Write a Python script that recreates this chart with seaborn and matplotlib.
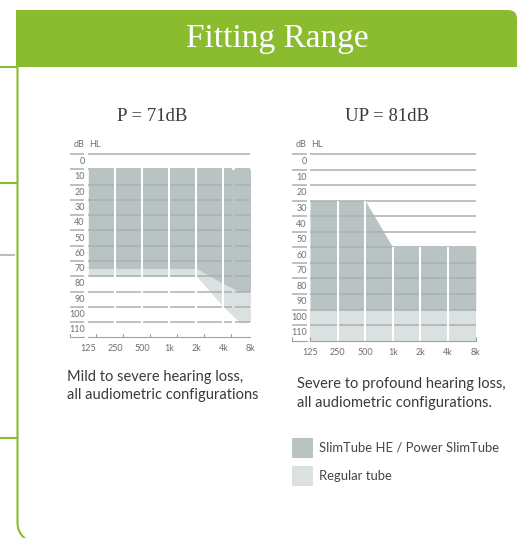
import numpy as np
import matplotlib
matplotlib.use("Agg")
import matplotlib.pyplot as plt
from matplotlib.patches import PathPatch, Rectangle
from matplotlib.path import Path
from matplotlib import font_manager
import seaborn as sns

# ---------------------------------------------------------------- data
freq_labels = ["125", "250", "500", "1k", "2k", "4k", "8k"]
db_levels = [0, 10, 20, 30, 40, 50, 60, 70, 80, 90, 100, 110]

# P = 71dB fitting range (dB HL)
p_freqs = [125, 250, 500, 1000, 2000, 4000, 6000, 8000]
p_slim_top = [10, 10, 10, 10, 10, 10, 10, 10]
p_slim_bottom = [75, 75, 75, 75, 75, 85, 90, 90]
p_regular_bottom = [80, 80, 80, 80, 80, 100, 110, 110]

# UP = 81dB fitting range (dB HL)
up_freqs = [125, 250, 500, 1000, 2000, 4000, 8000]
up_slim_top = [30, 30, 30, 60, 60, 60, 60]
up_slim_bottom = [100, 100, 100, 100, 100, 100, 100]
up_regular_bottom = [120, 120, 120, 120, 120, 120, 120]

legend_labels = ["SlimTube HE / Power SlimTube", "Regular tube"]

# ---------------------------------------------------------------- style
sns.set_theme(style="white")
names = {f.name for f in font_manager.fontManager.ttflist}
SANS = "Liberation Sans Narrow" if "Liberation Sans Narrow" in names else "Lato"
SERIF = "Liberation Serif"
plt.rcParams["font.family"] = [SANS, "DejaVu Sans"]

GREEN = "#8bbc30"
DARK = "#b9c3c3"
LIGHT = "#dbe1e1"
GRID = "#a7b2b2"
TEXT = "#3a3a3a"
TICK = "#707070"

W, H = 517, 538
fig = plt.figure(figsize=(W / 100, H / 100), dpi=100)

# full-page overlay in pixel coordinates
page = fig.add_axes([0, 0, 1, 1])
page.set_xlim(0, W)
page.set_ylim(H, 0)
page.axis("off")

# banner with rounded top-right corner
r = 9
banner = Path(
    [(16, 67), (16, 10), (W - r, 10), (W, 10), (W, 10 + r), (W, 67), (16, 67)],
    [Path.MOVETO, Path.LINETO, Path.LINETO, Path.CURVE3, Path.CURVE3,
     Path.LINETO, Path.CLOSEPOLY],
)
page.add_patch(PathPatch(banner, facecolor=GREEN, edgecolor="none"))
page.text(277, 47, "Fitting Range", family=SERIF, fontsize=24, color="white",
          ha="center", va="baseline")

# left frame line with rounded foot
frame = Path(
    [(17.5, 66), (17.5, 522), (17.5, 533), (23, 537), (28, 541)],
    [Path.MOVETO, Path.LINETO, Path.CURVE4, Path.CURVE4, Path.CURVE4],
)
page.add_patch(PathPatch(frame, facecolor="none", edgecolor=GREEN, lw=1.5))
for yy in (67, 183, 438):
    page.plot([0, 17.5], [yy, yy], color=GREEN, lw=1.5, solid_capstyle="butt")
page.plot([0, 15], [255, 255], color="#bdbdbd", lw=1.5, solid_capstyle="butt")


def chart_axes(box, x125, px_oct, y0, px_db):
    """Axes placed at a pixel box; x in octaves above 125 Hz, y in dB HL."""
    l, t, rr, b = box
    ax = fig.add_axes([l / W, 1 - b / H, (rr - l) / W, (b - t) / H])
    ax.set_xlim((l - x125) / px_oct, (rr - x125) / px_oct)
    ax.set_ylim((b - y0) / px_db, (t - y0) / px_db)
    ax.axis("off")
    return ax


def draw_chart(ax, freqs, slim_top, slim_bottom, reg_bottom, stub, label_x,
               tick_shift, white_from, split=None):
    octs = np.log2(np.array(freqs) / 125.0)
    ax.fill_between(octs, slim_bottom, reg_bottom, color=LIGHT, lw=0, zorder=1)
    ax.fill_between(octs, slim_top, slim_bottom, color=DARK, lw=0, zorder=1)

    # horizontal grid, split where the scale labels sit
    spans = [(0, 6)] if split is None else [(0, split[0]), (split[1], 6)]
    for lv in db_levels:
        ax.plot([stub[0], stub[1]], [lv, lv], color=GRID, lw=1.1,
                solid_capstyle="butt", zorder=2)
        for i, (a, b) in enumerate(spans):
            if lv == 0 and i > 0:
                a = spans[0][1]
            ax.plot([a, b], [lv, lv], color=GRID, lw=1.1,
                    solid_capstyle="butt", zorder=2)
        ax.text(label_x, lv + 5, str(lv), ha="right", va="center",
                fontsize=6.5, color=TICK)
    ax.text(label_x, -6, "dB", ha="right", va="center", fontsize=6.5, color=TICK)
    ax.text(label_x + 0.17, -6, "HL", ha="left", va="center", fontsize=6.5,
            color=TICK)

    # white octave dividers
    for k in range(1, 6):
        top = white_from(k, octs, slim_top)
        ax.plot([k, k], [top, 120], color="white", lw=1.5, zorder=3,
                solid_capstyle="butt")

    # frequency axis
    ax.plot([stub[0], stub[1]], [120, 120], color="#9aa3a3", lw=0.8, zorder=2)
    ax.plot([0 if tick_shift == 0 else stub[1] + 0.15, 6], [120, 120],
            color="#9aa3a3", lw=0.8, zorder=2)
    ticks = [stub[0]] + [k + tick_shift for k in range(0, 7 if tick_shift == 0 else 6)]
    for tx in ticks:
        ax.plot([tx, tx], [120, 117.5], color="#9aa3a3", lw=0.8, zorder=2)
    for k, lab in enumerate(freq_labels):
        ax.text(k, 127.5, lab, ha="center", va="center", fontsize=6.5, color=TICK)


# P = 71dB chart
ax1 = chart_axes((66, 138, 256, 356), x125=88.3, px_oct=27.03, y0=154, px_db=1.528)
draw_chart(ax1, p_freqs, p_slim_top, p_slim_bottom, p_regular_bottom,
           stub=(-0.68, -0.16), label_x=-0.13, tick_shift=0.29,
           white_from=lambda k, o, t: 5, split=(5.33, 5.43))

# UP = 81dB chart
ax2 = chart_axes((288, 138, 480, 358), x125=310, px_oct=27.62, y0=154, px_db=1.556)
draw_chart(ax2, up_freqs, up_slim_top, up_slim_bottom, up_regular_bottom,
           stub=(-0.66, -0.12), label_x=-0.12, tick_shift=0,
           white_from=lambda k, o, t: float(np.interp(k, o, t)))

# chart titles
page.text(152, 121, "P = 71dB", family=SERIF, fontsize=13.5, color=TEXT,
          ha="center", va="baseline")
page.text(387, 121, "UP = 81dB", family=SERIF, fontsize=13.5, color=TEXT,
          ha="center", va="baseline")

# captions
page.text(67, 381, "Mild to severe hearing loss,", fontsize=10.5, color=TEXT,
          va="baseline")
page.text(67, 399, "all audiometric configurations", fontsize=10.5, color=TEXT,
          va="baseline")
page.text(297, 388, "Severe to profound hearing loss,", fontsize=10.5, color=TEXT,
          va="baseline")
page.text(297, 407, "all audiometric configurations.", fontsize=10.5, color=TEXT,
          va="baseline")

# legend
for i, (lab, col) in enumerate(zip(legend_labels, [DARK, LIGHT])):
    y = 438 + 28 * i
    page.add_patch(Rectangle((292, y), 21, 20, facecolor=col, edgecolor="none"))
    page.text(319, y + 10, lab, fontsize=9.4, color="#444444", va="center")

fig.savefig("out.png", dpi=100)
